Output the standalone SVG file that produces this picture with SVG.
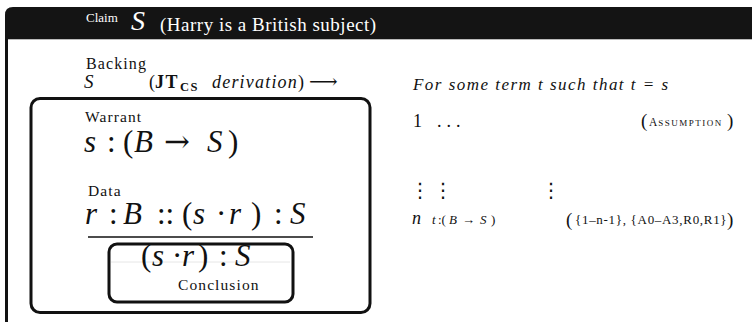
<svg xmlns="http://www.w3.org/2000/svg" width="752" height="324" viewBox="0 0 752 324">
<style>
  text { font-family: "Liberation Serif", "DejaVu Serif", serif; fill: #111; }
  .it { font-style: italic; }
  .w { fill: #fff; }
  .box { fill: none; stroke: #111; stroke-width: 3; }
  .lbl { font-size: 15.5px; letter-spacing: 1.1px; }
  .m { font-size: 31px; }
  .ar { font-family: "DejaVu Serif", serif; }
  .vd { font-family: "DejaVu Sans", sans-serif; font-size: 20px; }
  .sm { font-size: 13px; letter-spacing: 0.7px; }
  .pb { font-size: 19px; }
</style>
<rect width="752" height="324" fill="#fff"/>
<g id="claim">
  <path d="M5,39 V15 Q5,7 13,7 H752 V39 Z" fill="#141414"/>
  <line x1="5" y1="39.5" x2="752" y2="39.5" stroke="#bbb" stroke-width="1"/>
  <line x1="6.5" y1="39" x2="6.5" y2="322" stroke="#111" stroke-width="3"/>
  <text x="86" y="22" font-size="13" class="w">Claim</text>
  <text x="131" y="30" font-size="28" class="it w">S</text>
  <text x="160" y="31" font-size="19" letter-spacing="0.5" class="w">(Harry is a British subject)</text>
</g>
<g id="backing">
  <text x="86" y="69" class="lbl" style="font-size:16px">Backing</text>
  <text x="84" y="88" font-size="19" class="it">S</text>
  <text y="88" font-size="18"><tspan x="149">(</tspan><tspan x="155" font-weight="bold" letter-spacing="1.5">JT</tspan><tspan x="180" dy="3" font-weight="bold" font-size="12.5" letter-spacing="1.5">CS</tspan><tspan x="212" dy="-3" class="it" letter-spacing="1.2">derivation</tspan><tspan x="298">)</tspan></text>
  <text x="309" y="88" font-size="20" font-family="DejaVu Sans, sans-serif" textLength="33">⟶</text>
</g>
<g id="warrant-box">
  <rect x="31" y="98.5" width="339" height="214" rx="9" class="box"/>
  <text x="85" y="122" class="lbl">Warrant</text>
  <text y="152" class="m"><tspan x="84" class="it">s</tspan><tspan x="107">:</tspan><tspan x="123">(</tspan><tspan x="134" class="it">B</tspan><tspan x="164" class="ar">→</tspan><tspan x="207" class="it">S</tspan><tspan x="228">)</tspan></text>
</g>
<g id="data">
  <text x="88" y="196" class="lbl">Data</text>
  <text y="224" class="m"><tspan x="85" class="it">r</tspan><tspan x="109">:</tspan><tspan x="123" class="it">B</tspan><tspan x="157">::</tspan><tspan x="182">(</tspan><tspan x="193" class="it">s</tspan><tspan x="216">·</tspan><tspan x="229" class="it">r</tspan><tspan x="251">)</tspan><tspan x="274">:</tspan><tspan x="290" class="it">S</tspan></text>
  <line x1="88" y1="237" x2="313" y2="237" stroke="#111" stroke-width="1.5"/>
</g>
<g id="conclusion">
  <line x1="111" y1="262" x2="290" y2="262" stroke="#e6e6e6" stroke-width="1"/>
  <rect x="109" y="244" width="184" height="58" rx="8" class="box"/>
  <text y="266" class="m"><tspan x="141">(</tspan><tspan x="152" class="it">s</tspan><tspan x="172">·</tspan><tspan x="182" class="it">r</tspan><tspan x="198">)</tspan><tspan x="219">:</tspan><tspan x="235" class="it">S</tspan></text>
  <text x="178" y="290" class="lbl">Conclusion</text>
</g>
<g id="derivation">
  <text x="413" y="90" font-size="17" class="it" textLength="255">For some term t such that t = s</text>
  <text x="413" y="127" font-size="18">1</text>
  <text x="437" y="127" font-size="18" letter-spacing="5">...</text>
  <text x="641" y="127" class="pb">(</text>
  <text x="649" y="126" font-size="11.5" letter-spacing="1">A<tspan font-size="9" letter-spacing="1.5">SSUMPTION</tspan></text>
  <text x="727" y="127" class="pb">)</text>
  <text x="410" y="197" class="vd">⋮</text>
  <text x="433" y="197" class="vd">⋮</text>
  <text x="541" y="197" class="vd">⋮</text>
  <text x="412" y="224" font-size="18" class="it">n</text>
  <text y="224" font-size="13"><tspan x="432" class="it">t</tspan><tspan x="438">:(</tspan><tspan x="449" class="it">B</tspan></text>
  <text x="462" y="224" font-size="13" font-family="DejaVu Sans, sans-serif" textLength="16">→</text>
  <text y="224" font-size="13"><tspan x="480" class="it">S</tspan><tspan x="491">)</tspan></text>
  <text x="566" y="226" class="pb">(</text>
  <text x="575" y="224" class="sm">{1–n-1}, {A0–A3,R0,R1}</text>
  <text x="727" y="226" class="pb">)</text>
</g>
</svg>
